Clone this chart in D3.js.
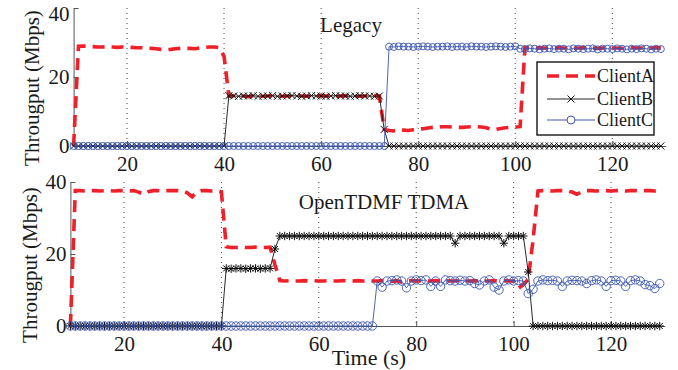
<!DOCTYPE html>
<html>
<head>
<meta charset="utf-8">
<script src="https://cdn.jsdelivr.net/npm/d3@7"></script>
<style>
  body { margin: 0; background: #fff; }
  text { font-family: "Liberation Serif", "Times New Roman", serif; fill: #1a1a1a; }
  .axis path, .axis line { stroke: #555; }
</style>
</head>
<body>
<svg id="figure" width="678" height="370"></svg>
<script>
// time in seconds, one sample per second
const time = [
  9,10,11,12,13,14,15,16,17,18,19,20,21,22,23,24,25,26,27,28,29,30,31,32,33,34,35,36,37,38,39,40,
  41,42,43,44,45,46,47,48,49,50,51,52,53,54,55,56,57,58,59,60,61,62,63,64,65,66,67,68,69,70,
  71,72,73,74,75,76,77,78,79,80,81,82,83,84,85,86,87,88,89,90,91,92,93,94,95,96,97,98,99,100,
  101,102,103,104,105,106,107,108,109,110,111,112,113,114,115,116,117,118,119,120,
  121,122,123,124,125,126,127,128,129,130
];
const xTicks = [20, 40, 60, 80, 100, 120];
const yTicks = [0, 20, 40];
const clients = ["ClientA", "ClientB", "ClientC"];

// Legacy (Mbps)
const legacyA = [
  0,
  28.9,29.0,28.9,28.8,28.7,28.7,28.8,28.7,28.6,28.7,
  28.7,28.6,28.5,28.5,28.4,28.3,28.2,28.0,27.9,28.0,
  28.2,28.3,28.3,28.3,28.2,28.4,28.6,28.7,28.7,28.5,
  26.0,
  14.4,14.6,14.5,14.5,14.3,14.6,14.5,14.4,14.5,14.6,
  14.5,14.4,14.5,14.5,14.6,14.5,14.4,14.5,14.5,14.6,
  14.5,14.5,14.4,14.5,14.6,14.5,14.5,14.4,14.5,14.5,
  14.6,14.5,
  4.8,
  4.5,4.4,4.6,4.6,4.5,4.7,4.9,5.0,5.2,5.4,
  5.5,5.6,5.6,5.5,5.4,5.4,5.5,5.6,5.6,5.5,
  5.3,4.9,4.8,5.1,5.3,5.4,5.5,5.6,
  28.5,28.4,28.4,28.5,28.4,28.3,28.4,28.5,28.4,28.4,
  28.3,28.4,28.5,28.4,28.4,28.3,28.4,28.5,28.4,28.4,
  28.3,28.4,28.5,28.4,28.4,28.3,28.4,28.5,28.4
];
const legacyB = [
  0,0,0,0,0,0,0,0,0,0,0,0,0,0,0,0,0,0,0,0,0,0,0,0,0,0,0,0,0,0,0,0,
  14.6,14.5,14.4,14.5,14.5,14.6,14.4,14.5,14.5,14.6,
  14.4,14.5,14.5,14.6,14.5,14.4,14.5,14.6,14.5,14.5,
  14.4,14.5,14.6,14.5,14.5,14.4,14.5,14.6,14.5,14.5,
  14.4,14.5,
  4.8,
  0,0,0,0,0,0,0,0,0,0,0,0,0,0,0,0,0,0,0,0,0,0,0,0,0,0,0,0,0,0,
  0,0,0,0,0,0,0,0,0,0,0,0,0,0,0,0,0,0,0,0,0,0,0,0,0,0,0
];
const legacyC = [
  0,0,0,0,0,0,0,0,0,0,0,0,0,0,0,0,0,0,0,0,0,0,0,0,0,0,0,0,0,0,0,0,
  0,0,0,0,0,0,0,0,0,0,0,0,0,0,0,0,0,0,0,0,0,0,0,0,0,0,0,0,0,0,0,0,0,
  28.8,28.7,28.9,28.8,28.8,28.7,28.8,28.9,28.8,28.7,
  28.8,28.8,28.9,28.7,28.8,28.8,28.7,28.9,28.8,28.8,
  28.7,28.8,28.9,28.8,28.7,28.8,28.9,
  28.2,28.1,28.3,28.2,28.0,28.2,28.3,28.1,28.2,28.2,
  28.0,28.3,28.2,28.1,28.2,28.3,28.0,28.2,28.2,28.1,
  28.3,28.2,28.0,28.2,28.1,28.3,28.2,28.0,28.2,28.1
];

// OpenTDMF TDMA (Mbps)
const tdmaA = [
  0,
  37.6,37.6,37.5,37.6,37.6,37.5,37.6,37.6,37.5,37.6,
  37.6,37.5,37.6,37.2,36.6,37.3,37.6,37.6,37.5,37.6,
  37.6,37.6,37.5,37.0,35.9,37.2,37.6,37.6,37.5,37.6,
  37.3,
  22.0,21.8,21.8,21.9,21.8,21.8,21.9,21.8,21.8,21.9,
  17.0,
  12.6,12.5,12.6,12.5,12.5,12.6,12.5,12.6,12.5,12.5,
  12.6,12.5,12.5,12.6,12.5,12.5,12.6,12.5,12.6,12.5,
  12.5,12.6,12.5,12.4,12.6,12.2,12.5,12.6,12.5,12.6,
  12.5,12.5,12.6,12.5,12.6,12.5,12.5,12.6,12.5,12.5,
  12.6,12.4,12.5,12.5,12.6,12.5,12.6,12.5,12.5,
  10.5,11.5,13.0,24.0,
  37.5,37.6,37.6,37.5,37.6,37.6,37.5,37.2,36.6,37.3,
  37.6,37.6,37.5,37.6,37.6,37.5,37.6,37.6,37.5,37.6,
  37.6,37.5,37.6,37.6,37.5,37.6
];
const tdmaB = [
  0,0,0,0,0,0,0,0,0,0,0,0,0,0,0,0,0,0,0,0,0,0,0,0,0,0,0,0,0,0,0,0,
  16.0,15.9,16.0,16.0,15.9,16.0,16.0,15.9,16.0,16.0,
  21.4,
  25,25,25,25,25,25,25,25,25,25,
  25,25,25,25,25,25,25,25,25,25,
  25,25,25,25,25,25,25,25,25,25,
  25,25,25,25,25,25,23,25,25,25,
  25,25,25,25,25,25,23,25,25,25,
  25,
  15,
  0,0,0,0,0,0,0,0,0,0,0,0,0,0,0,0,0,0,0,0,0,0,0,0,0,0,0
];
const tdmaC = [
  0,0,0,0,0,0,0,0,0,0,0,0,0,0,0,0,0,0,0,0,0,0,0,0,0,0,0,0,0,0,0,0,
  0,0,0,0,0,0,0,0,0,0,0,0,0,0,0,0,0,0,0,0,0,0,0,0,0,0,0,0,0,0,0,
  12.5,10.8,12.5,12.6,12.8,12.5,10.6,12.5,12.8,12.6,
  12.8,11.0,12.5,11.0,12.8,12.6,12.5,12.7,12.5,12.6,
  11.8,11.4,12.5,12.8,10.8,10.0,12.5,12.8,12.5,12.6,
  12.5,9.0,10.2,12.5,12.8,12.6,12.7,12.5,11.0,12.5,
  12.7,12.6,12.5,11.8,12.6,12.8,12.5,11.0,12.6,12.7,
  12.5,11.0,12.6,12.8,12.5,11.5,11.2,10.4,11.8
];

const RED = "#f0202a", BLUE = "#3a55b0", BLACK = "#111";

const svg = d3.select("#figure");
svg.append("rect").attr("width", 678).attr("height", 370).attr("fill", "#fff");

const panels = [
  {title: "Legacy", series: [legacyA, legacyB, legacyC], bMarker: "x", r: 3.5,
   xRange: [73.6, 665.7], yRange: [146, 8], titleX: 351, titleY: 32, labelX: 39, labelY: 88},
  {title: "OpenTDMF TDMA", series: [tdmaA, tdmaB, tdmaC], bMarker: "star", r: 4.2,
   xRange: [70.4, 664.6], yRange: [326, 182], titleX: 384, titleY: 209, labelX: 37, labelY: 265}
];

const markerPath = {
  x: "M-3.5,-3.5L3.5,3.5M-3.5,3.5L3.5,-3.5",
  star: "M-3,-3L3,3M-3,3L3,-3M0,-4.2L0,4.2M-4.2,0L4.2,0"
};

panels.forEach((p, pi) => {
  const x = d3.scaleLinear().domain([9, 131]).range(p.xRange);
  const y = d3.scaleLinear().domain([0, 40]).range(p.yRange);
  const g = svg.append("g");

  // dotted vertical grid
  g.selectAll("line.grid").data(xTicks).enter().append("line")
    .attr("class", "grid")
    .attr("x1", d => x(d)).attr("x2", d => x(d))
    .attr("y1", y(40)).attr("y2", y(0))
    .attr("stroke", "#444").attr("stroke-width", 1)
    .attr("stroke-dasharray", "1,4");

  const xAxis = g.append("g").attr("class", "axis")
    .attr("transform", `translate(0,${y(0)})`)
    .call(d3.axisBottom(x).tickValues(xTicks).tickSize(-5).tickSizeOuter(0).tickPadding(10));
  const yAxis = g.append("g").attr("class", "axis")
    .attr("transform", `translate(${x(9)},0)`)
    .call(d3.axisLeft(y).tickValues(yTicks).tickSize(-5).tickSizeOuter(0).tickPadding(4));
  [xAxis, yAxis].forEach(a => a.selectAll("text").style("font-size", "21px").attr("fill", "#1a1a1a"));
  // top label of the first panel sits a little lower so it is not clipped
  if (pi === 0) yAxis.selectAll(".tick text").filter(d => d === 40).attr("dy", "0.6em");

  const pts = (vals) => time.map((t, i) => [t, vals[i]]);
  const line = d3.line().x(d => x(d[0])).y(d => y(d[1]));

  // ClientA: red dashed
  g.append("path").datum(pts(p.series[0])).attr("d", line)
    .attr("fill", "none").attr("stroke", RED).attr("stroke-width", 3.6)
    .attr("stroke-dasharray", "12,7");

  // ClientB: black thin with x / * markers
  g.append("path").datum(pts(p.series[1])).attr("d", line)
    .attr("fill", "none").attr("stroke", BLACK).attr("stroke-width", 0.9);
  g.selectAll("path.mb").data(pts(p.series[1])).enter().append("path")
    .attr("class", "mb")
    .attr("transform", d => `translate(${x(d[0])},${y(d[1])})`)
    .attr("d", markerPath[p.bMarker])
    .attr("stroke", BLACK).attr("stroke-width", 1).attr("fill", "none");

  // ClientC: blue thin with circles
  g.append("path").datum(pts(p.series[2])).attr("d", line)
    .attr("fill", "none").attr("stroke", BLUE).attr("stroke-width", 0.9);
  g.selectAll("circle.mc").data(pts(p.series[2])).enter().append("circle")
    .attr("class", "mc")
    .attr("cx", d => x(d[0])).attr("cy", d => y(d[1])).attr("r", p.r)
    .attr("stroke", BLUE).attr("stroke-width", 0.9).attr("fill", "none");

  g.append("text").attr("x", p.titleX).attr("y", p.titleY)
    .attr("text-anchor", "middle").style("font-size", "21px").text(p.title);

  g.append("text")
    .attr("transform", `translate(${p.labelX},${p.labelY}) rotate(-90)`)
    .attr("text-anchor", "middle").style("font-size", "21px")
    .text("Througput (Mbps)");
});

svg.append("text").attr("x", 369).attr("y", 365)
  .attr("text-anchor", "middle").style("font-size", "22px").text("Time (s)");

// legend (top panel)
const lg = svg.append("g").attr("transform", "translate(537,62)");
lg.append("rect").attr("width", 117).attr("height", 73)
  .attr("fill", "#fff").attr("stroke", "#000").attr("stroke-width", 1.3);
const rowY = [14, 37, 58];
clients.forEach((c, i) => {
  const row = lg.append("g").attr("transform", `translate(0,${rowY[i]})`);
  const ln = row.append("line").attr("x1", 10).attr("x2", 58).attr("y1", 0).attr("y2", 0);
  if (i === 0) ln.attr("stroke", RED).attr("stroke-width", 3.6).attr("stroke-dasharray", "12,7");
  if (i === 1) {
    ln.attr("stroke", BLACK).attr("stroke-width", 0.9);
    row.append("path").attr("transform", "translate(34,0)").attr("d", markerPath.x)
      .attr("stroke", BLACK).attr("stroke-width", 1);
  }
  if (i === 2) {
    ln.attr("stroke", "#8090c8").attr("stroke-width", 1.4);
    row.append("circle").attr("cx", 34).attr("cy", 0).attr("r", 4)
      .attr("fill", "#fff").attr("stroke", BLUE).attr("stroke-width", 1);
  }
  row.append("text").attr("x", 60).attr("y", 6).style("font-size", "18px").text(c);
});
</script>
</body>
</html>
